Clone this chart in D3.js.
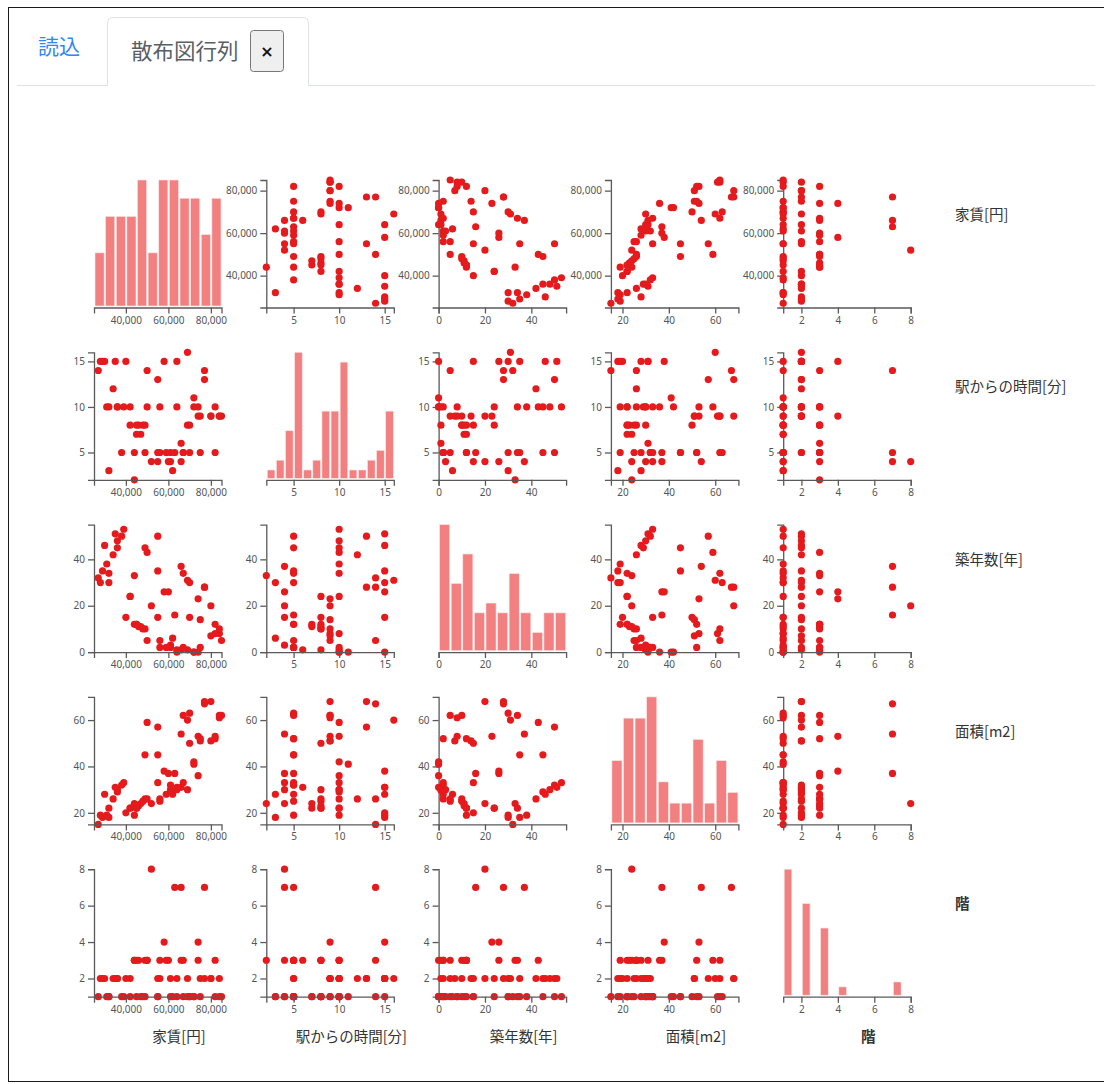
<!DOCTYPE html>
<html>
<head>
<meta charset="utf-8">
<script src="https://cdn.jsdelivr.net/npm/d3@7"></script>
<style>
  html, body { margin: 0; padding: 0; background: #fff; }
  svg { display: block; }
  .tick text { font-family: "Noto Sans", "Open Sans", sans-serif; }
</style>
</head>
<body>
<svg id="page" width="1104" height="1084"></svg>
<script>
// ---------------- data ----------------
const columns = ["家賃[円]", "駅からの時間[分]", "築年数[年]", "面積[m2]", "階"];

const rent = [85000, 84000, 84000, 82000, 82000, 80000, 80000, 77000, 77000, 75000,
              74000, 70000, 70000, 69000, 69000, 67000, 66000, 63000, 62000, 60000,
              58000, 56000, 55000, 55000, 55000, 52000, 50000, 50000, 49000, 49000,
              48000, 47000, 46000, 45000, 44000, 45000, 44000, 42000, 42000, 40000,
              39000, 38000, 36000, 36000, 35000, 34000, 32000, 32000, 31000, 30000,
              29000, 28000, 27000, 75000, 74000, 72000, 72000, 66000, 64000, 64000,
              61000, 61000, 59000, 67000, 56000];

const walk = [9, 9, 9, 5, 10, 9, 9, 14, 13, 9,
              9, 8, 5, 16, 8, 5, 4, 5, 3, 4,
              15, 5, 4, 5, 13, 4, 10, 14, 5, 8,
              8, 7, 8, 7, 5, 8, 2, 8, 10, 15,
              10, 5, 10, 10, 15, 12, 3, 10, 10, 15,
              15, 15, 14, 5, 10, 10, 11, 6, 10, 15,
              5, 4, 5, 5, 10];

const age = [5, 8, 10, 12, 8, 7, 20, 28, 28, 14,
             23, 15, 30, 31, 1, 34, 37, 16, 6, 26,
             26, 5, 15, 35, 50, 20, 43, 5, 45, 10,
             10, 11, 11, 12, 12, 12, 33, 24, 24, 15,
             53, 50, 45, 48, 51, 42, 30, 34, 38, 46,
             35, 30, 32, 2, 0, 0, 0, 1, 1, 0,
             2, 3, 2, 2, 2];

const area = [62, 61, 62, 52, 53, 51, 68, 67, 68, 51,
              53, 50, 63, 60, 30, 62, 54, 37, 28, 37,
              38, 25, 33, 45, 57, 24, 59, 26, 45, 26,
              25, 24, 23, 22, 19, 22, 24, 22, 22, 20,
              33, 32, 29, 30, 31, 26, 18, 22, 19, 28,
              18, 19, 15, 52, 36, 42, 41, 31, 30, 31,
              32, 30, 28, 33, 26];

const floor = [1, 1, 2, 3, 1, 2, 2, 7, 2, 2,
               4, 1, 1, 2, 1, 3, 7, 7, 1, 3,
               4, 2, 1, 1, 2, 8, 3, 3, 1, 3,
               1, 1, 3, 1, 3, 3, 3, 1, 2, 2,
               1, 1, 2, 2, 2, 2, 1, 1, 1, 2,
               2, 2, 1, 1, 3, 1, 1, 3, 2, 1,
               2, 1, 3, 1, 3];

const series = [rent, walk, age, area, floor];
const tickCount = 3;
const binCount = 12;

// ---------------- layout ----------------
const svg = d3.select("#page");
const pointColor = "#e41a1c";
const barColor = "#f28080";
const axisColor = "#5a5a5a";
const labelFont = "'Noto Sans CJK JP', 'Noto Sans', sans-serif";

// page frame and tab header
svg.append("rect").attr("x", 8.5).attr("y", 7.5).attr("width", 1110).attr("height", 1074)
  .attr("fill", "none").attr("stroke", "#1a1a1a").attr("stroke-width", 1);
svg.append("line").attr("x1", 17).attr("x2", 1095).attr("y1", 85.5).attr("y2", 85.5)
  .attr("stroke", "#dee2e6").attr("stroke-width", 1);
svg.append("path")
  .attr("d", "M107.5,86 L107.5,23.5 Q107.5,17.5 113.5,17.5 L302.5,17.5 Q308.5,17.5 308.5,23.5 L308.5,86")
  .attr("fill", "#fff").attr("stroke", "#dee2e6").attr("stroke-width", 1);
svg.append("text").attr("x", 38).attr("y", 54).text("読込")
  .attr("font-family", labelFont).attr("font-size", 21).attr("fill", "#2f86f6");
svg.append("text").attr("x", 131).attr("y", 59).text("散布図行列")
  .attr("font-family", labelFont).attr("font-size", 21.5).attr("fill", "#595f66");
svg.append("rect").attr("x", 250.5).attr("y", 30.5).attr("width", 33).attr("height", 41).attr("rx", 3)
  .attr("fill", "#efefef").attr("stroke", "#777").attr("stroke-width", 1);
svg.append("text").attr("x", 267).attr("y", 56.5).attr("text-anchor", "middle").text("×")
  .attr("font-family", "'DejaVu Sans', sans-serif").attr("font-weight", "bold").attr("font-size", 16).attr("fill", "#111");

// matrix geometry
const originX = 94, originY = 180, step = 172.3, inner = 127.5;
const n = columns.length;

const xScales = series.map(v => d3.scaleLinear().domain(d3.extent(v)).nice().range([0, inner]));
const yScales = series.map(v => d3.scaleLinear().domain(d3.extent(v)).nice().range([inner, 0]));

const data = rent.map((_, i) => series.map(s => s[i]));

function styleAxis(g) {
  g.selectAll("path, line").attr("stroke", axisColor).attr("stroke-width", 1.3);
  g.selectAll("text").attr("fill", "#555").attr("font-size", 10)
    .attr("font-family", "'Noto Sans', 'Open Sans', sans-serif");
}

for (let row = 0; row < n; row++) {
  for (let col = 0; col < n; col++) {
    const g = svg.append("g")
      .attr("transform", `translate(${originX + col * step},${originY + row * step})`);
    const x = xScales[col];
    if (row === col) {
      const values = series[col];
      const bins = d3.bin().domain(x.domain()).thresholds(x.ticks(binCount))(values);
      const hy = d3.scaleLinear().domain([0, d3.max(bins, b => b.length)]).range([inner, 0]);
      g.selectAll("rect.bar").data(bins.filter(b => b.x1 > b.x0)).join("rect")
        .attr("class", "bar")
        .attr("x", b => x(b.x0) + 1)
        .attr("width", b => Math.max(0, x(b.x1) - x(b.x0) - 1.5))
        .attr("y", b => hy(b.length))
        .attr("height", b => Math.max(0, inner - 1.5 - hy(b.length)))
        .attr("fill", barColor)
        .attr("stroke", "#fbe3e3").attr("stroke-width", 0.6);
    } else {
      const y = yScales[row];
      g.append("g").call(d3.axisLeft(y).ticks(tickCount)).call(styleAxis);
      g.selectAll("circle").data(data).join("circle")
        .attr("cx", d => x(d[col]))
        .attr("cy", d => y(d[row]))
        .attr("r", 3.6)
        .attr("fill", pointColor);
    }
    g.append("g").attr("transform", `translate(0,${inner})`)
      .call(d3.axisBottom(x).ticks(tickCount)).call(styleAxis);
  }
}

// row labels (right) and column labels (bottom)
columns.forEach((name, i) => {
  svg.append("text")
    .attr("x", 955).attr("y", originY + i * step + 40)
    .text(name)
    .attr("font-family", labelFont).attr("font-size", 14.5)
    .attr("font-weight", name === "階" ? "bold" : "normal")
    .attr("fill", "#333");
  svg.append("text")
    .attr("x", originX + i * step + 85).attr("y", 1042)
    .attr("text-anchor", "middle")
    .text(name)
    .attr("font-family", labelFont).attr("font-size", 14.5)
    .attr("font-weight", name === "階" ? "bold" : "normal")
    .attr("fill", "#333");
});
</script>
</body>
</html>
